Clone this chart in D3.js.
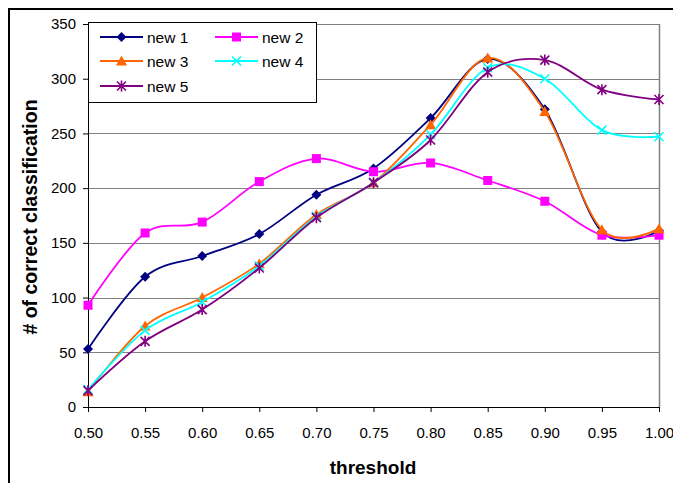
<!DOCTYPE html>
<html>
<head>
<meta charset="utf-8">
<script src="https://cdn.jsdelivr.net/npm/d3@7"></script>
<style>
  html, body { margin: 0; padding: 0; background: #fff; }
  svg { display: block; font-family: "Liberation Sans", Arial, sans-serif; }
</style>
</head>
<body>
<svg id="chart" width="673" height="483"></svg>
<script>
const thresholds = [0.50, 0.55, 0.60, 0.65, 0.70, 0.75, 0.80, 0.85, 0.90, 0.95, 1.00];
const new1 = [53, 119, 138, 158, 194, 218, 264, 318, 272, 160, 161];
const new2 = [93, 159, 169, 206, 227, 215, 223, 207, 188, 157, 157];
const new3 = [14, 74, 100, 131, 176, 205, 258, 319, 270, 162, 163];
const new4 = [16, 70, 96, 129, 174, 205, 249, 310, 300, 253, 247];
const new5 = [15, 60, 89, 127, 173, 205, 244, 306, 317, 290, 281];
const seriesNames = ["new 1", "new 2", "new 3", "new 4", "new 5"];
const yTicks = [0, 50, 100, 150, 200, 250, 300, 350];
const xTicks = [0.50, 0.55, 0.60, 0.65, 0.70, 0.75, 0.80, 0.85, 0.90, 0.95, 1.00];
const xTitle = "threshold";
const yTitle = "# of correct classification";

const seriesValues = [new1, new2, new3, new4, new5];
const colors = ["#000080", "#FF00FF", "#FF6600", "#00FFFF", "#800080"];
const markers = ["diamond", "square", "triangle", "x", "star"];

const svg = d3.select("#chart");
const x = d3.scaleLinear().domain([0.5, 1.0]).range([88, 659]);
const y = d3.scaleLinear().domain([0, 350]).range([407, 24]);

// outer chart border
svg.append("rect").attr("x", 9).attr("y", 9).attr("width", 720).attr("height", 520)
  .attr("fill", "none").attr("stroke", "#000").attr("stroke-width", 2);

// gridlines
svg.append("g").selectAll("line").data(yTicks.filter(d => d > 0)).join("line")
  .attr("x1", x(0.5)).attr("x2", x(1.0))
  .attr("y1", d => Math.round(y(d)) + 0.5).attr("y2", d => Math.round(y(d)) + 0.5)
  .attr("stroke", "#808080").attr("stroke-width", 1);
// right plot border
svg.append("line").attr("x1", Math.round(x(1.0)) + 0.5).attr("x2", Math.round(x(1.0)) + 0.5)
  .attr("y1", y(350)).attr("y2", y(0)).attr("stroke", "#808080").attr("stroke-width", 1.5);

// axes
const yAxis = svg.append("g").attr("transform", `translate(${x(0.5)},0)`)
  .call(d3.axisLeft(y).tickValues(yTicks).tickFormat(d3.format("d")).tickSize(5).tickPadding(7));
const xAxis = svg.append("g").attr("transform", `translate(0,${y(0)})`)
  .call(d3.axisBottom(x).tickValues(xTicks).tickFormat(d3.format(".2f")).tickSize(5).tickPadding(15));
[yAxis, xAxis].forEach(g => {
  g.select(".domain").attr("stroke", "#000");
  g.selectAll(".tick line").attr("stroke", "#000");
  g.selectAll("text").attr("font-size", 15).attr("fill", "#000")
    .attr("font-family", "'Liberation Sans', Arial, sans-serif");
});

// axis titles
svg.append("text").attr("x", 373).attr("y", 474).attr("text-anchor", "middle")
  .attr("font-weight", "bold").attr("font-size", 19).text(xTitle);
svg.append("text").attr("transform", "translate(37,217) rotate(-90)").attr("text-anchor", "middle")
  .attr("font-weight", "bold").attr("font-size", 19.5).text(yTitle);

function drawMarker(g, type, color, cx, cy) {
  if (type === "diamond") {
    g.append("path").attr("d", `M${cx},${cy-5}L${cx+5},${cy}L${cx},${cy+5}L${cx-5},${cy}Z`).attr("fill", color);
  } else if (type === "square") {
    g.append("rect").attr("x", cx - 4.5).attr("y", cy - 4.5).attr("width", 9).attr("height", 9).attr("fill", color);
  } else if (type === "triangle") {
    g.append("path").attr("d", `M${cx},${cy-5.5}L${cx+5.5},${cy+4.5}L${cx-5.5},${cy+4.5}Z`).attr("fill", color);
  } else if (type === "x") {
    g.append("path").attr("d", `M${cx-4.5},${cy-4.5}L${cx+4.5},${cy+4.5}M${cx-4.5},${cy+4.5}L${cx+4.5},${cy-4.5}`)
      .attr("stroke", color).attr("stroke-width", 1.6).attr("fill", "none");
  } else if (type === "star") {
    g.append("path").attr("d", `M${cx-4.5},${cy-4.5}L${cx+4.5},${cy+4.5}M${cx-4.5},${cy+4.5}L${cx+4.5},${cy-4.5}M${cx},${cy-5.5}L${cx},${cy+5.5}`)
      .attr("stroke", color).attr("stroke-width", 1.6).attr("fill", "none");
  }
}

const line = d3.line().x(d => x(d[0])).y(d => y(d[1])).curve(d3.curveCardinal.tension(0));
seriesValues.forEach((vals, i) => {
  const pts = thresholds.map((t, j) => [t, vals[j]]);
  const g = svg.append("g");
  g.append("path").attr("d", line(pts)).attr("fill", "none").attr("stroke", colors[i]).attr("stroke-width", 1.8);
  pts.forEach(p => drawMarker(g, markers[i], colors[i], x(p[0]), y(p[1])));
});

// legend
const lg = svg.append("g");
lg.append("rect").attr("x", 88.5).attr("y", 22.5).attr("width", 228).attr("height", 80)
  .attr("fill", "#fff").attr("stroke", "#000").attr("stroke-width", 1);
const legendPos = [[100, 37], [215, 37], [100, 61], [215, 61], [100, 86]];
seriesNames.forEach((name, i) => {
  const [lx, ly] = legendPos[i];
  lg.append("line").attr("x1", lx).attr("x2", lx + 43).attr("y1", ly).attr("y2", ly)
    .attr("stroke", colors[i]).attr("stroke-width", 1.8);
  drawMarker(lg, markers[i], colors[i], lx + 21.5, ly);
  lg.append("text").attr("x", lx + 47).attr("y", ly + 5.5).attr("font-size", 15.5).text(name);
});
</script>
</body>
</html>
